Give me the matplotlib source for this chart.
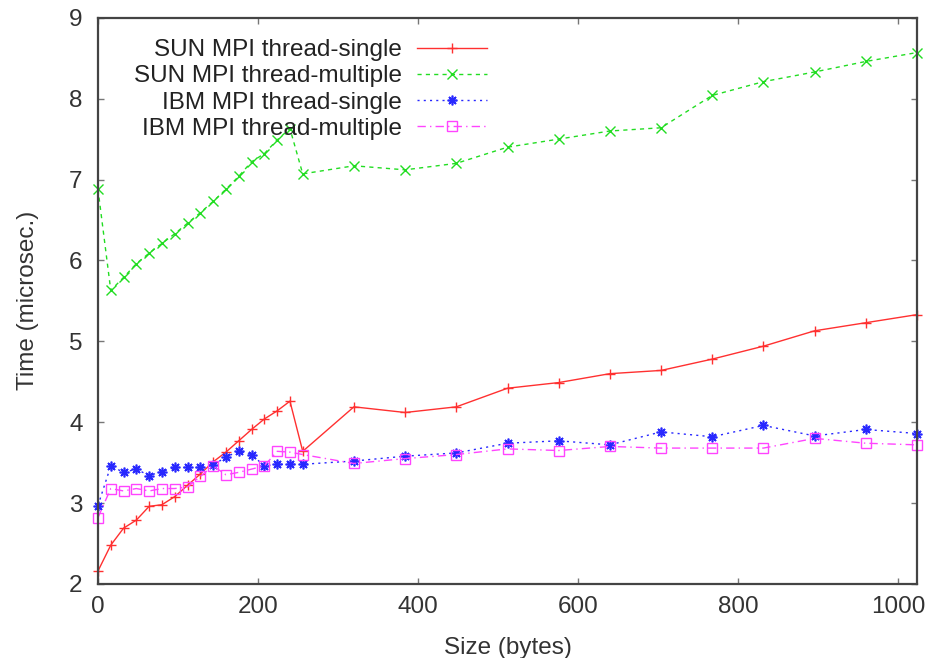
import matplotlib
matplotlib.use("Agg")
import matplotlib.pyplot as plt

plt.rcParams['font.family'] = ['Liberation Sans', 'DejaVu Sans']

# message size in bytes
sizes = [0, 16, 32, 48, 64, 80, 96, 112, 128, 144, 160, 176, 192, 208, 224, 240, 256,
         320, 384, 448, 512, 576, 640, 704, 768, 832, 896, 960, 1024]

sun_single = [2.16, 2.48, 2.69, 2.79, 2.96, 2.98, 3.08, 3.22, 3.36, 3.51, 3.63, 3.77, 3.91,
              4.04, 4.14, 4.26, 3.64, 4.19, 4.12, 4.19, 4.42, 4.49, 4.60, 4.64, 4.78, 4.94,
              5.13, 5.23, 5.33]
sun_multiple = [6.88, 5.63, 5.79, 5.96, 6.09, 6.21, 6.33, 6.46, 6.59, 6.73, 6.88, 7.04, 7.22,
                7.32, 7.49, 7.63, 7.07, 7.17, 7.12, 7.20, 7.40, 7.50, 7.60, 7.64, 8.04, 8.21,
                8.33, 8.46, 8.57]
ibm_single = [2.97, 3.46, 3.38, 3.42, 3.34, 3.39, 3.44, 3.44, 3.44, 3.47, 3.57, 3.64, 3.60,
              3.46, 3.48, 3.48, 3.48, 3.52, 3.58, 3.62, 3.74, 3.77, 3.72, 3.88, 3.82, 3.96,
              3.83, 3.91, 3.86]
ibm_multiple = [2.82, 3.18, 3.15, 3.18, 3.15, 3.18, 3.18, 3.20, 3.33, 3.46, 3.35, 3.38, 3.42,
                3.46, 3.64, 3.63, 3.60, 3.49, 3.55, 3.60, 3.67, 3.65, 3.70, 3.68, 3.68, 3.68,
                3.80, 3.74, 3.72]

labels = ['SUN MPI thread-single', 'SUN MPI thread-multiple',
          'IBM MPI thread-single', 'IBM MPI thread-multiple']

fig = plt.figure(figsize=(9.42, 6.58), dpi=100)
ax = fig.add_axes([0.104, 0.1125, 0.8695, 0.8605])

ax.plot(sizes, sun_single, color='#ff3030', lw=1.0, ls='-', marker='+', ms=7,
        mew=1.0, label=labels[0], clip_on=False)
ax.plot(sizes, sun_multiple, color='#22dd22', lw=1.0, ls=(0, (3, 3)), marker='x', ms=7,
        mew=1.0, label=labels[1], clip_on=False)
ax.plot(sizes, ibm_single, color='#2828ff', lw=1.0, ls=(0, (1.5, 3)), marker=(8, 2, 0), ms=7,
        mew=1.2, label=labels[2], clip_on=False)
ax.plot(sizes, ibm_multiple, color='#ff44ff', lw=1.0, ls=(0, (6, 3, 1, 3)), marker='s', ms=7,
        mfc='none', mew=1.0, label=labels[3], clip_on=False)

ax.set_xlim(0, 1024)
ax.set_ylim(2, 9)
ax.set_xticks([0, 200, 400, 600, 800, 1000])
ax.set_yticks([2, 3, 4, 5, 6, 7, 8, 9])

for s in ax.spines.values():
    s.set_color('#444444')
    s.set_linewidth(1.6)
ax.tick_params(direction='in', length=4, width=1, color='#777777', top=True, right=True,
               labelsize=17.5, labelcolor='#333333')
ax.tick_params(axis='y', pad=11)
ax.tick_params(axis='x', pad=9)

ax.set_xlabel('Size (bytes)', fontsize=17.5, color='#333333', labelpad=13)
ax.set_ylabel('Time (microsec.)', fontsize=17.5, color='#333333', labelpad=22)

leg = ax.legend(loc='upper right', bbox_to_anchor=(0.475, 0.962), frameon=False,
                markerfirst=False, fontsize=17.5, labelspacing=0.17, handlelength=2.9,
                handletextpad=0.6, borderaxespad=0, borderpad=0)
for t in leg.get_texts():
    t.set_color('#222222')

fig.savefig('out.png', dpi=100)
